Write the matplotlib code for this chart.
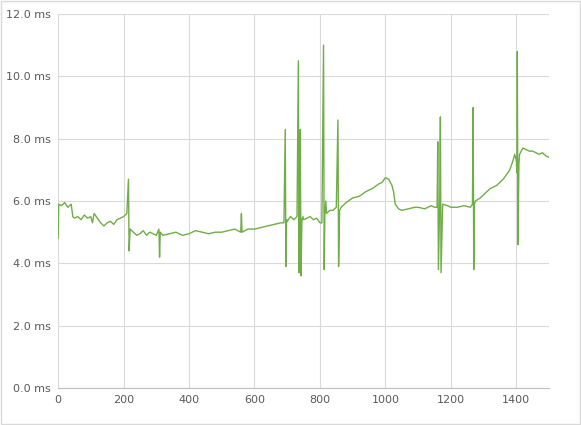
import matplotlib
matplotlib.use("Agg")
import matplotlib.pyplot as plt
from matplotlib.ticker import FuncFormatter

x = [0,2,10,20,30,40,45,50,60,70,80,90,100,105,110,120,130,140,150,160,170,180,190,200,210,215,217,220,230,240,250,260,270,280,290,300,308,310,312,320,340,360,380,400,420,440,460,480,500,520,540,558,560,562,580,600,620,640,660,680,690,694,696,698,700,710,720,730,734,736,738,740,742,745,748,750,760,770,780,790,800,806,811,813,815,818,820,830,840,850,855,857,860,865,880,900,920,940,960,980,990,1000,1010,1020,1025,1030,1040,1050,1070,1090,1100,1120,1140,1150,1158,1160,1162,1166,1168,1170,1175,1190,1200,1220,1240,1260,1266,1268,1270,1272,1275,1290,1300,1320,1340,1360,1380,1390,1395,1400,1402,1403,1405,1408,1410,1420,1430,1440,1450,1460,1470,1480,1490,1500]
y = [4.8,5.9,5.85,5.95,5.8,5.9,5.5,5.45,5.5,5.4,5.55,5.45,5.5,5.3,5.6,5.45,5.3,5.2,5.3,5.35,5.25,5.4,5.45,5.5,5.6,6.7,4.4,5.1,5.0,4.9,4.95,5.05,4.9,5.0,4.95,4.9,5.1,4.2,5.0,4.9,4.95,5.0,4.9,4.95,5.05,5.0,4.95,5.0,5.0,5.05,5.1,5.0,5.6,5.0,5.1,5.1,5.15,5.2,5.25,5.3,5.3,8.3,3.9,5.4,5.35,5.5,5.4,5.5,10.5,3.7,5.6,8.3,3.6,5.4,5.5,5.4,5.45,5.5,5.4,5.45,5.3,5.3,11.0,3.8,5.6,6.0,5.6,5.7,5.7,5.8,8.6,3.9,5.7,5.8,5.95,6.1,6.15,6.3,6.4,6.55,6.6,6.75,6.7,6.5,6.3,5.9,5.75,5.7,5.75,5.8,5.8,5.75,5.85,5.8,5.8,7.9,3.8,6.0,8.7,3.7,5.9,5.85,5.8,5.8,5.85,5.8,5.9,9.0,3.8,5.9,6.0,6.1,6.2,6.4,6.5,6.7,7.0,7.3,7.5,7.3,6.9,10.8,4.6,7.2,7.5,7.7,7.65,7.6,7.6,7.55,7.5,7.55,7.45,7.4]

fig = plt.figure(figsize=(5.81,4.25), dpi=100)
fig.patch.set_facecolor("white")
ax = fig.add_axes([0.1, 0.087, 0.845, 0.88])
ax.plot(x, y, color="#70AD47", lw=1.0)
ax.set_xlim(0,1500); ax.set_ylim(0,12)
ax.set_xticks(range(0,1401,200)); ax.set_yticks([0,2,4,6,8,10,12])
ax.yaxis.set_major_formatter(FuncFormatter(lambda v,p: f"{v:.1f} ms"))
ax.grid(True, color="#D9D9D9", lw=0.8)
ax.set_axisbelow(True)
for s in ["top","right","left"]:
    ax.spines[s].set_visible(False)
ax.spines["bottom"].set_color("#BFBFBF")
ax.tick_params(length=0, labelsize=8, colors="#595959", pad=5)
fig.add_artist(plt.Rectangle((0.002,0.002),0.996,0.996,transform=fig.transFigure,fill=False,ec="#D9D9D9",lw=1))
fig.savefig("out.png", dpi=100)
